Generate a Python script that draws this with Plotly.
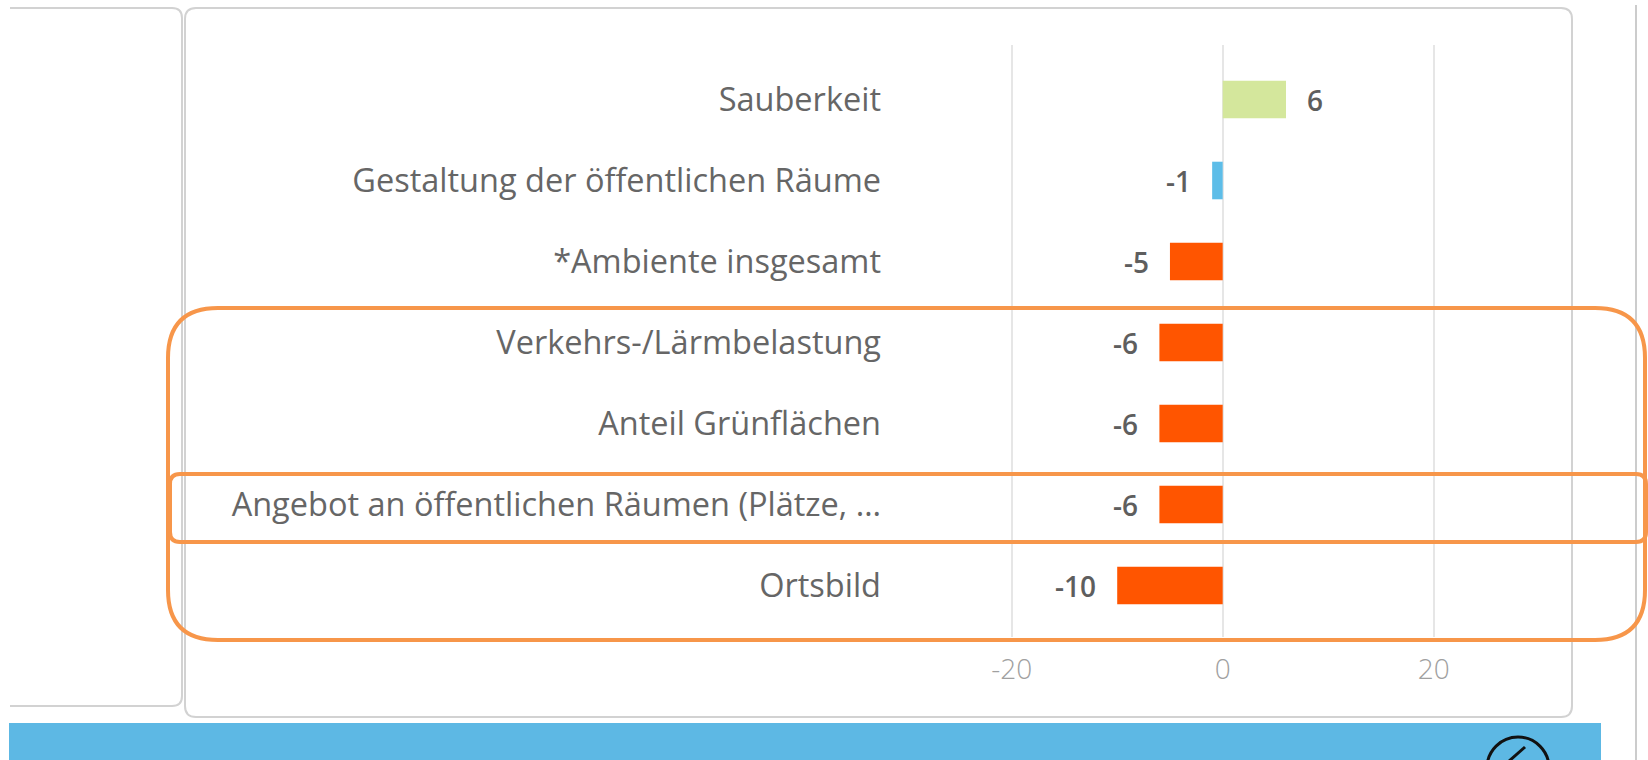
import plotly.graph_objects as go

# Werte je Kategorie (Reihenfolge von oben nach unten)
categories = [
    "Sauberkeit",
    "Gestaltung der öffentlichen Räume",
    "*Ambiente insgesamt",
    "Verkehrs-/Lärmbelastung",
    "Anteil Grünflächen",
    "Angebot an öffentlichen Räumen (Plätze, …",
    "Ortsbild",
]
values = [6, -1, -5, -6, -6, -6, -10]
bar_colors = ["#D4E79C", "#5DBDE8", "#FF5500", "#FF5500", "#FF5500", "#FF5500", "#FF5500"]
x_ticks = [-20, 0, 20]

W, H = 1648, 760


def px(x):
    return x / W


def py(y):
    return 1 - y / H


def rounded_rect(x0, y0, x1, y1, r):
    """SVG path of a rounded rectangle in paper coordinates (inputs in pixels)."""
    pts = [
        f"M {px(x0 + r)} {py(y0)}",
        f"L {px(x1 - r)} {py(y0)}",
        f"Q {px(x1)} {py(y0)} {px(x1)} {py(y0 + r)}",
        f"L {px(x1)} {py(y1 - r)}",
        f"Q {px(x1)} {py(y1)} {px(x1 - r)} {py(y1)}",
        f"L {px(x0 + r)} {py(y1)}",
        f"Q {px(x0)} {py(y1)} {px(x0)} {py(y1 - r)}",
        f"L {px(x0)} {py(y0 + r)}",
        f"Q {px(x0)} {py(y0)} {px(x0 + r)} {py(y0)}",
        "Z",
    ]
    return " ".join(pts)


fig = go.Figure()

fig.add_trace(
    go.Bar(
        x=values,
        y=categories,
        orientation="h",
        marker=dict(color=bar_colors, line=dict(width=0)),
        hoverinfo="skip",
    )
)

# Datenbeschriftungen neben den Balken
annotations = []
for cat, v in zip(categories, values):
    annotations.append(
        dict(
            x=v,
            y=cat,
            xref="x",
            yref="y",
            text=f"{v:d}",
            showarrow=False,
            xanchor="left" if v >= 0 else "right",
            xshift=19 if v >= 0 else -19,
            font=dict(family="Open Sans", size=28, color="#5E5E5E", weight=600),
        )
    )

# Kartenrahmen, Markierungen und Fußleiste
shapes = []
card = dict(color="#D2D2D2", width=2)
shapes.append(dict(type="path", xref="paper", yref="paper", layer="below",
                   path=rounded_rect(185, 8, 1572, 717, 11), line=card))
shapes.append(dict(type="path", xref="paper", yref="paper", layer="below",
                   path=(f"M {px(10)} {py(8)} L {px(172)} {py(8)} "
                         f"Q {px(182)} {py(8)} {px(182)} {py(18)} "
                         f"L {px(182)} {py(696)} Q {px(182)} {py(706)} {px(172)} {py(706)} "
                         f"L {px(10)} {py(706)}"),
                   line=card))
shapes.append(dict(type="line", xref="paper", yref="paper", layer="below",
                   x0=px(1636), x1=px(1636), y0=py(5), y1=py(760),
                   line=dict(color="#CCCCCC", width=2)))
shapes.append(dict(type="rect", xref="paper", yref="paper", layer="below",
                   x0=px(9), x1=px(1601), y0=py(723), y1=py(760),
                   fillcolor="#5DB8E4", line=dict(width=0)))
shapes.append(dict(type="circle", xref="paper", yref="paper",
                   x0=px(1487), x1=px(1549), y0=py(737), y1=py(799),
                   line=dict(color="#111111", width=3)))
shapes.append(dict(type="line", xref="paper", yref="paper",
                   x0=px(1525), x1=px(1508), y0=py(747), y1=py(762),
                   line=dict(color="#111111", width=3)))
orange = dict(color="#F7964A", width=4)
shapes.append(dict(type="path", xref="paper", yref="paper",
                   path=rounded_rect(168, 308, 1645, 640, 50), line=orange))
shapes.append(dict(type="path", xref="paper", yref="paper",
                   path=rounded_rect(170, 474, 1646, 542, 10), line=orange))

zero_px = 1222.7
unit_px = 10.55
left_px, right_px = 900, 1540
top_px, bottom_px = 45, 637
row_px = 81.0
top_center, bottom_center = 99.5, 585.5

fig.update_layout(
    width=W,
    height=H,
    margin=dict(l=0, r=0, t=0, b=0),
    paper_bgcolor="white",
    plot_bgcolor="white",
    showlegend=False,
    bargap=0.536,
    shapes=shapes,
    annotations=annotations,
    xaxis=dict(
        domain=[px(left_px), px(right_px)],
        range=[-(zero_px - left_px) / unit_px, (right_px - zero_px) / unit_px],
        tickvals=x_ticks,
        ticktext=[str(t) for t in x_ticks],
        showgrid=True,
        gridcolor="#E6E6E6",
        gridwidth=2,
        zeroline=True,
        zerolinecolor="#E6E6E6",
        zerolinewidth=2,
        showline=False,
        ticks="",
        ticklabelstandoff=13,
        tickfont=dict(family="Open Sans", size=28, color="#A0A0A0", weight=300),
        fixedrange=True,
    ),
    yaxis=dict(
        domain=[py(bottom_px), py(top_px)],
        categoryorder="array",
        categoryarray=categories[::-1],
        range=[-(bottom_px - bottom_center) / row_px,
               len(categories) - 1 + (top_center - top_px) / row_px],
        showgrid=False,
        zeroline=False,
        showline=False,
        ticks="",
        ticklabelstandoff=18,
        tickfont=dict(family="Open Sans", size=32.5, color="#666666"),
        fixedrange=True,
    ),
)

fig.write_html("out.html")
